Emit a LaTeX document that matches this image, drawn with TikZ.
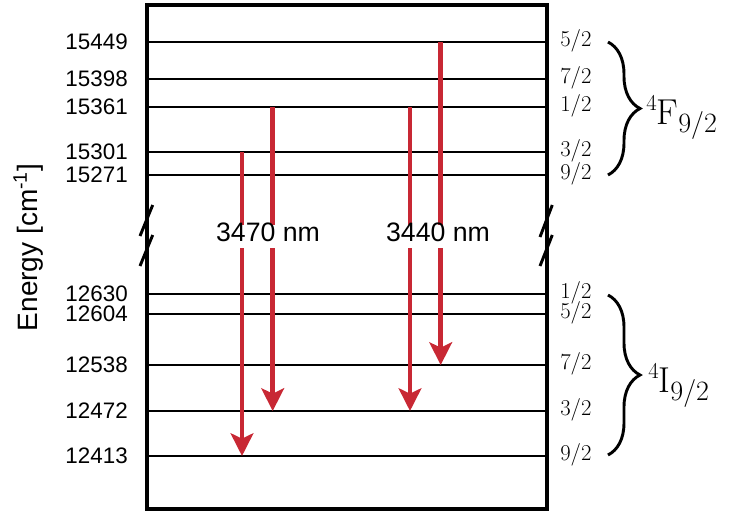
\documentclass[tikz,border=0pt]{standalone}
\usepackage{fontspec}
\newfontfamily\sansf{Liberation Sans}
\usetikzlibrary{arrows.meta,decorations.pathreplacing}
\definecolor{arrowred}{RGB}{200,40,52}
\begin{document}
\begin{tikzpicture}[x=0.75pt,y=-0.75pt,
  level/.style={line width=1.8pt},
  frame/.style={line width=3pt},
  breakmark/.style={line width=2.2pt},
  elabel/.style={anchor=east,inner sep=0pt,font=\sansf\fontsize{16.8}{16.8}\selectfont},
  jlabel/.style={anchor=west,inner sep=0pt,text height=0.65em,text depth=0pt,font=\fontsize{17}{17}\selectfont},
  trans/.style={draw=arrowred,line width=3.4pt,-{Stealth[length=17pt,width=17pt,inset=4pt]}},
  wlabel/.style={fill=white,inner xsep=2pt,inner ysep=5.2pt,text height=0.72em,text depth=0pt,font=\sansf\fontsize{20}{20}\selectfont},
  bracedeco/.style={decorate,decoration={brace,amplitude=24pt},line width=2.2pt},
  term/.style={anchor=base west,inner sep=0pt}
]
\useasboundingbox (0,0) rectangle (747,511);

% levels
\foreach \e/\y/\j in {15449/42/5,15398/79/7,15361/107/1,15301/152/3,15271/175/9,
                      12630/294/1,12604/314/5,12538/365/7,12472/411/3,12413/456/9}{
  \coordinate (L\e) at (147,\y);
  \coordinate (R\e) at (547,\y);
  \draw[level] (L\e) -- (R\e);
  \node[elabel] (n\e) at (128,\y) {\e};
  \node[jlabel] (j\e) at (560,\y) {\j/2};
}

% frame
\coordinate (fTL) at (147,4.7);
\coordinate (fBR) at (547,508.5);
\draw[frame] (fTL) rectangle (fBR);

% axis break marks
\coordinate (bl1a) at (152.7,205); \coordinate (bl1b) at (140,236);
\coordinate (bl2a) at (152.7,235); \coordinate (bl2b) at (140,266);
\coordinate (br1a) at (552.3,205); \coordinate (br1b) at (540,237);
\coordinate (br2a) at (552.3,235); \coordinate (br2b) at (540,266);
\draw[breakmark] (bl1a) -- (bl1b);
\draw[breakmark] (bl2a) -- (bl2b);
\draw[breakmark] (br1a) -- (br1b);
\draw[breakmark] (br2a) -- (br2b);

% transitions
\coordinate (a1s) at (242,152); \coordinate (a1e) at (242,456);
\coordinate (a2s) at (272.7,107); \coordinate (a2e) at (272.7,411);
\coordinate (a3s) at (410,107); \coordinate (a3e) at (410,411);
\coordinate (a4s) at (440.7,42); \coordinate (a4e) at (440.7,365);
\draw[trans] (a1s) -- (a1e);
\draw[trans] (a2s) -- (a2e);
\draw[trans] (a3s) -- (a3e);
\draw[trans] (a4s) -- (a4e);

\node[wlabel] (w1) at (268,236.5) {3470 nm};
\node[wlabel] (w2) at (438,236.5) {3440 nm};

% axis label
\node[rotate=90,anchor=base,inner sep=0pt,font=\sansf\fontsize{21}{21}\selectfont] (elab) at (37,247.5) {Energy [cm\textsuperscript{-1}]};

% braces
\coordinate (bFt) at (608,42); \coordinate (bFb) at (608,175);
\coordinate (bIt) at (608,295); \coordinate (bIb) at (608,455);
\draw[bracedeco] (bFt) -- (bFb);
\draw[bracedeco] (bIt) -- (bIb);

\node[term] (termF) at (646,124) {\fontsize{17}{17}\selectfont\raisebox{10pt}{4}\fontsize{27}{27}\selectfont F\fontsize{21}{21}\selectfont\raisebox{-6.5pt}{9/2}};
\node[term] (termI) at (648,392) {\fontsize{17}{17}\selectfont\raisebox{10pt}{4}\fontsize{27}{27}\selectfont I\fontsize{21}{21}\selectfont\raisebox{-6.5pt}{9/2}};
\end{tikzpicture}
\end{document}
